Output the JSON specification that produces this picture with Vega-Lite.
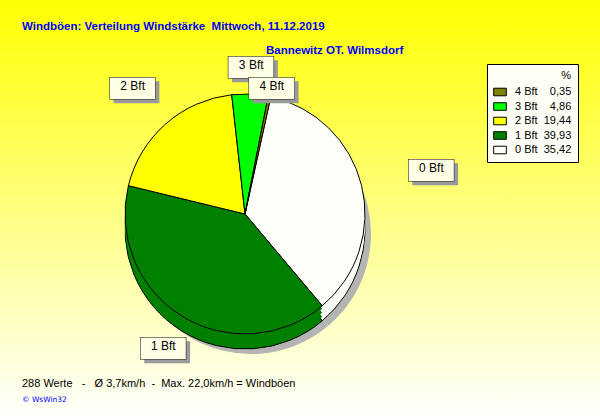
{
  "$schema": "https://vega.github.io/schema/vega-lite/v6.json",
  "width": 600,
  "height": 420,
  "autosize": {"type": "fit", "contains": "padding"},
  "padding": 0,
  "background": "#FFFFFF",
  "view": {"stroke": null, "fill": {"gradient": "linear", "x1": 0, "y1": 0, "x2": 0, "y2": 1, "stops": [{"offset": 0, "color": "#FFFF00"}, {"offset": 1, "color": "#FFFFFF"}]}},
  "datasets": {
    "wind": [
      {"Bft": "0 Bft", "Prozent": 35.42},
      {"Bft": "1 Bft", "Prozent": 39.93},
      {"Bft": "2 Bft", "Prozent": 19.44},
      {"Bft": "3 Bft", "Prozent": 4.86},
      {"Bft": "4 Bft", "Prozent": 0.35}
    ]
  },
  "layer": [
    {
      "data": {"name": "wind"},
      "mark": {"type": "arc", "radius": 120, "x": 245, "y": 214, "xOffset": 6, "yOffset": 20, "fill": "#B4B4B4", "stroke": null},
      "encoding": {
        "theta": {"field": "Prozent", "type": "quantitative", "stack": true, "scale": {"range": [0.2164, 6.4996]}},
        "order": {"field": "Bft"},
        "detail": {"field": "Bft"}
      }
    },
    {
      "data": {"name": "wind"},
      "mark": {"type": "arc", "radius": 120, "x": 245, "y": 214, "yOffset": 15, "stroke": "black", "strokeWidth": 1},
      "encoding": {
        "theta": {"field": "Prozent", "type": "quantitative", "stack": true},
        "order": {"field": "Bft"},
        "color": {"field": "Bft", "type": "nominal"}
      }
    },
    {
      "data": {"name": "wind"},
      "mark": {"type": "arc", "radius": 120, "x": 245, "y": 214, "yOffset": 11, "strokeWidth": 0},
      "encoding": {
        "theta": {"field": "Prozent", "type": "quantitative", "stack": true},
        "order": {"field": "Bft"},
        "color": {"field": "Bft", "type": "nominal"}
      }
    },
    {
      "data": {"name": "wind"},
      "mark": {"type": "arc", "radius": 120, "x": 245, "y": 214, "yOffset": 7, "strokeWidth": 0},
      "encoding": {
        "theta": {"field": "Prozent", "type": "quantitative", "stack": true},
        "order": {"field": "Bft"},
        "color": {"field": "Bft", "type": "nominal"}
      }
    },
    {
      "data": {"name": "wind"},
      "mark": {"type": "arc", "radius": 120, "x": 245, "y": 214, "yOffset": 3, "strokeWidth": 0},
      "encoding": {
        "theta": {"field": "Prozent", "type": "quantitative", "stack": true},
        "order": {"field": "Bft"},
        "color": {"field": "Bft", "type": "nominal"}
      }
    },
    {
      "data": {"name": "wind"},
      "mark": {"type": "arc", "radius": 120, "x": 245, "y": 214, "stroke": "black", "strokeWidth": 1},
      "encoding": {
        "theta": {"field": "Prozent", "type": "quantitative", "stack": true},
        "order": {"field": "Bft"},
        "color": {
          "field": "Bft",
          "type": "nominal",
          "scale": {
            "domain": ["4 Bft", "3 Bft", "2 Bft", "1 Bft", "0 Bft"],
            "range": ["#808000", "#00FF00", "#FFFF00", "#008000", "#FFFFFA"]
          },
          "legend": {
            "orient": "none",
            "legendX": 487,
            "legendY": 64,
            "title": "%\u2007\u2007\u2007",
            "titleAnchor": "end",
            "titleFont": "Liberation Sans",
            "titleFontSize": 11,
            "titleFontWeight": "normal",
            "titleColor": "black",
            "titlePadding": 4,
            "fillColor": "#FFFFF8",
            "strokeColor": "black",
            "padding": 6,
            "symbolType": "M-1,-0.6H1V0.6H-1Z",
            "symbolSize": 160,
            "symbolStrokeColor": "black",
            "symbolStrokeWidth": 1,
            "symbolOpacity": 1,
            "labelFont": "Liberation Sans",
            "labelFontSize": 11,
            "labelColor": "black",
            "labelOffset": 8,
            "rowPadding": 1.5,
            "labelExpr": "datum.label + '\u00A0\u00A0' + (datum.label == '4 Bft' ? '\u20070,35' : datum.label == '3 Bft' ? '\u20074,86' : datum.label == '2 Bft' ? '19,44' : datum.label == '1 Bft' ? '39,93' : '35,42') + '\u2007'"
          }
        }
      }
    },
    {
      "data": {"name": "wind"},
      "mark": {"type": "text", "text": "\u25AC", "font": "DejaVu Sans", "fontSize": 60, "fill": "#9A9A9A", "dx": 4, "dy": 4, "x": 245, "y": 214, "baseline": "middle", "align": "center",
        "radius": {"expr": "datum.Bft == '0 Bft' ? 192 : datum.Bft == '1 Bft' ? 155 : datum.Bft == '2 Bft' ? 170 : datum.Bft == '3 Bft' ? 149 : 131"}},
      "encoding": {
        "theta": {"field": "Prozent", "type": "quantitative", "stack": true},
        "order": {"field": "Bft"},
        "detail": {"field": "Bft"}
      }
    },
    {
      "data": {"name": "wind"},
      "mark": {"type": "text", "text": "\u25AC", "font": "DejaVu Sans", "fontSize": 60, "fill": "#FFFFE6", "stroke": "black", "strokeWidth": 0.5, "x": 245, "y": 214, "baseline": "middle", "align": "center",
        "radius": {"expr": "datum.Bft == '0 Bft' ? 192 : datum.Bft == '1 Bft' ? 155 : datum.Bft == '2 Bft' ? 170 : datum.Bft == '3 Bft' ? 149 : 131"}},
      "encoding": {
        "theta": {"field": "Prozent", "type": "quantitative", "stack": true},
        "order": {"field": "Bft"},
        "detail": {"field": "Bft"}
      }
    },
    {
      "data": {"name": "wind"},
      "mark": {"type": "text", "font": "Liberation Sans", "fontSize": 12, "fill": "black", "x": 245, "y": 214, "baseline": "middle", "align": "center",
        "radius": {"expr": "datum.Bft == '0 Bft' ? 192 : datum.Bft == '1 Bft' ? 155 : datum.Bft == '2 Bft' ? 170 : datum.Bft == '3 Bft' ? 149 : 131"}},
      "encoding": {
        "theta": {"field": "Prozent", "type": "quantitative", "stack": true},
        "order": {"field": "Bft"},
        "detail": {"field": "Bft"},
        "text": {"field": "Bft"}
      }
    },
    {
      "data": {"values": [{"t": "Windböen: Verteilung Windstärke\u00A0 Mittwoch, 11.12.2019"}]},
      "mark": {"type": "text", "x": 22, "y": 30, "align": "left", "baseline": "alphabetic", "font": "Liberation Sans", "fontSize": 11.5, "fontWeight": "bold", "fill": "#0000FF"},
      "encoding": {"text": {"field": "t"}}
    },
    {
      "data": {"values": [{"t": "Bannewitz OT. Wilmsdorf"}]},
      "mark": {"type": "text", "x": 266, "y": 54, "align": "left", "baseline": "alphabetic", "font": "Liberation Sans", "fontSize": 11.5, "fontWeight": "bold", "fill": "#0000FF"},
      "encoding": {"text": {"field": "t"}}
    },
    {
      "data": {"values": [{"t": "288 Werte \u00A0 - \u00A0 Ø 3,7km/h \u00A0- \u00A0Max. 22,0km/h = Windböen"}]},
      "mark": {"type": "text", "x": 22, "y": 387, "align": "left", "baseline": "alphabetic", "font": "Liberation Sans", "fontSize": 11, "fill": "black"},
      "encoding": {"text": {"field": "t"}}
    },
    {
      "data": {"values": [{"t": "© WsWin32"}]},
      "mark": {"type": "text", "x": 22, "y": 402, "align": "left", "baseline": "alphabetic", "font": "DejaVu Sans", "fontSize": 7.5, "fill": "#0000FF"},
      "encoding": {"text": {"field": "t"}}
    }
  ]
}
